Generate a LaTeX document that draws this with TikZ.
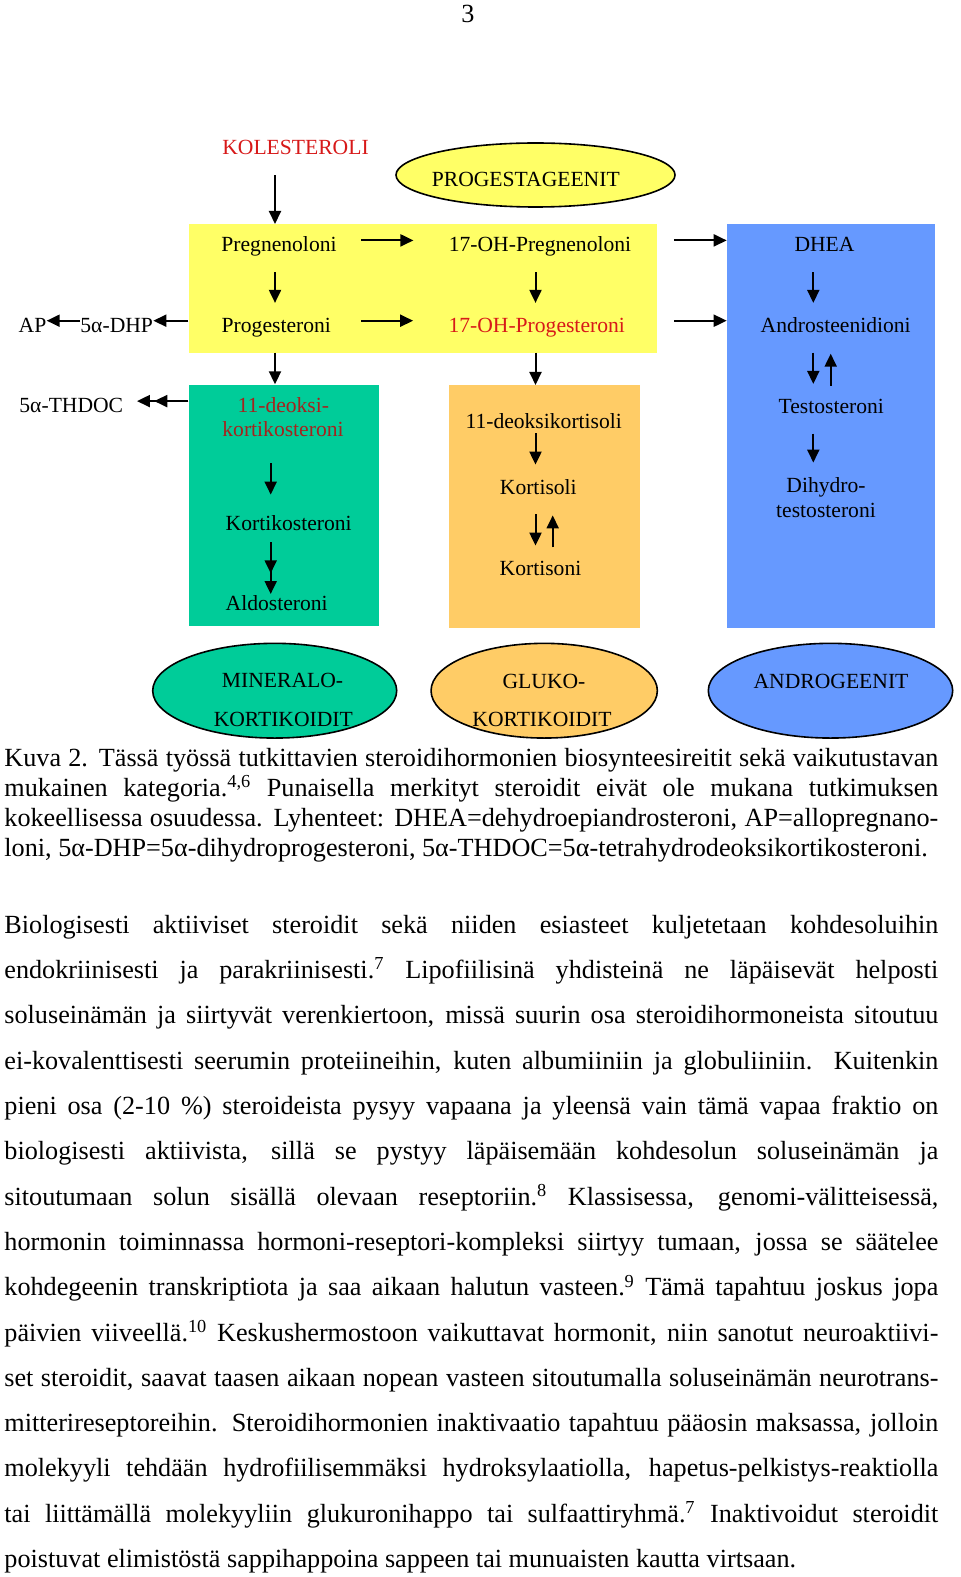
\documentclass[tikz,border=0pt]{standalone}
\usepackage{fontspec}
\setmainfont{Liberation Serif}
\usetikzlibrary{arrows.meta}
\usetikzlibrary{shapes.geometric}

\definecolor{yelbox}{RGB}{255,255,102}
\definecolor{grnbox}{RGB}{0,204,153}
\definecolor{orgbox}{RGB}{255,204,102}
\definecolor{blubox}{RGB}{102,153,255}
\definecolor{redtxt}{RGB}{215,25,25}
\definecolor{dkred}{RGB}{165,35,30}

\tikzset{
  lbl/.style={inner sep=0pt, anchor=base, text height=11.6pt, text depth=0pt, font=\fontsize{10.8}{13}\selectfont},
  box/.style={inner sep=0pt, anchor=north west},
  oval/.style={ellipse, draw, line width=0.8pt, inner sep=0pt},
  txt/.style={inner sep=0pt, anchor=base west, font=\fontsize{13.1}{15}\selectfont},
  arr/.style={line width=1pt, -{Triangle[length=6.5pt,width=6pt]}},
  vdown/.style={arr, shorten <=10pt, shorten >=2.9pt},
  vup/.style={arr, shorten <=2pt, shorten >=10.5pt}
}

\begin{document}
\begin{tikzpicture}[x=0.5pt,y=-0.5pt]

\useasboundingbox (0,0) rectangle (960,1577);

\node[txt, anchor=base] (pnum) at (468,23) {3};

% boxes
\node[box, fill=yelbox, minimum width=234.2pt, minimum height=64.15pt] (yel) at (188.3,224) {};
\node[box, fill=grnbox, minimum width=95.35pt, minimum height=120.85pt] (grn) at (188.3,384.3) {};
\node[box, fill=orgbox, minimum width=95.5pt, minimum height=121.15pt] (org) at (448.3,385) {};
\node[box, fill=blubox, minimum width=104.15pt, minimum height=201.65pt] (blu) at (726.7,224) {};

% ovals
\node[oval, fill=yelbox, minimum width=139.5pt, minimum height=32pt] (progov) at (535.5,175) {};
\node[oval, fill=grnbox, minimum width=122pt, minimum height=47.35pt] (minov) at (274.7,690.7) {};
\node[oval, fill=orgbox, minimum width=113.15pt, minimum height=47.35pt] (gluov) at (544.2,690.7) {};
\node[oval, fill=blubox, minimum width=122.2pt, minimum height=47.35pt] (andov) at (830.5,690.7) {};

% arrow columns
\coordinate (colA) at (275,0);
\coordinate (colB) at (535.5,0);
\coordinate (colB2) at (552.7,0);
\coordinate (colC) at (813.3,0);
\coordinate (colC2) at (830.7,0);
\coordinate (colG) at (270.7,0);

% labels
\node[lbl, text=redtxt] (kol) at (295.5,154.3) {KOLESTEROLI};
\node[lbl] (prgst) at (525.8,187) {PROGESTAGEENIT};
\node[lbl] (preg) at (279,252) {Pregnenoloni};
\node[lbl] (ohpreg) at (540,252) {17-OH-Pregnenoloni};
\node[lbl] (dhea) at (824.5,252) {DHEA};
\node[lbl] (ap) at (32.5,332.3) {AP};
\node[lbl] (dhp) at (116.7,332.3) {5α-DHP};
\node[lbl] (prog) at (276.3,332.3) {Progesteroni};
\node[lbl, text=redtxt] (ohprog) at (536.7,332.3) {17-OH-Progesteroni};
\node[lbl] (andro) at (835.7,332.3) {Androsteenidioni};
\node[lbl] (thdoc) at (71.3,412.7) {5α-THDOC};
\node[lbl, text=dkred] (dko1) at (283.3,412.7) {11-deoksi-};
\node[lbl, text=dkred] (dko2) at (283,437) {kortikosteroni};
\node[lbl] (dkol) at (543.7,429) {11-deoksikortisoli};
\node[lbl] (testo) at (831.3,413.3) {Testosteroni};
\node[lbl] (dht1) at (826,492) {Dihydro-};
\node[lbl] (dht2) at (826,517) {testosteroni};
\node[lbl] (kortiko) at (288.7,530.7) {Kortikosteroni};
\node[lbl] (kortisoli) at (538.3,494) {Kortisoli};
\node[lbl] (kortisoni) at (540.5,575) {Kortisoni};
\node[lbl] (aldo) at (276.7,610.7) {Aldosteroni};
\node[lbl] (min1) at (282.5,687) {MINERALO-};
\node[lbl] (min2) at (283.3,726) {KORTIKOIDIT};
\node[lbl] (glu1) at (544,688) {GLUKO-};
\node[lbl] (glu2) at (542,726) {KORTIKOIDIT};
\node[lbl] (andr) at (831,688) {ANDROGEENIT};

% vertical arrows
\draw[arr, shorten <=10.35pt] (kol.south -| colA) -- (yel.north -| colA);
\draw[vdown] (preg.south -| colA) -- (prog.north -| colA);
\draw[arr, shorten <=10pt] (prog.south -| colA) -- (grn.north -| colA);
\draw[vdown] (ohpreg.south -| colB) -- (ohprog.north -| colB);
\draw[arr, shorten <=10pt] (ohprog.south -| colB) -- (org.north -| colB);
\draw[vdown, shorten <=2pt] (dkol.south -| colB) -- (kortisoli.north -| colB);
\draw[vdown] (kortisoli.south -| colB) -- (kortisoni.north -| colB);
\draw[vup] (kortisoni.north -| colB2) -- (kortisoli.south -| colB2);
\draw[vdown] (dhea.south -| colC) -- (andro.north -| colC);
\draw[vdown] (andro.south -| colC) -- (testo.north -| colC);
\draw[vup] (testo.north -| colC2) -- (andro.south -| colC2);
\draw[vdown] (testo.south -| colC) -- (dht1.north -| colC);
\draw[arr, shorten <=12.85pt, shorten >=6.25pt] (dko2.south -| colG) -- (kortiko.north -| colG);
\draw[arr, shorten <=5.5pt, shorten >=2.55pt] (kortiko.south -| colG) -- (aldo.center -| colG);
\draw[arr, shorten <=5.5pt, shorten >=12.9pt] (kortiko.south -| colG) -- (aldo.center -| colG);

% horizontal arrows
\draw[arr, shorten <=12.15pt, shorten >=17.5pt] (preg) -- (ohpreg);
\draw[arr, shorten <=15pt, shorten >=17.5pt] (prog) -- (ohprog);
\draw[arr, shorten <=21.15pt] (ohpreg) -- (ohpreg -| blu.west);
\draw[arr, shorten <=24.5pt] (ohprog) -- (ohprog -| blu.west);
\draw[arr] (dhp -| yel.west) -- (dhp);
\draw[arr] (dhp) -- (ap);
\draw[arr, shorten >=6.7pt] (thdoc -| grn.west) -- (thdoc);
\draw[arr, shorten >=15.35pt] (thdoc -| grn.west) -- (thdoc);

% caption
\node[txt] (c1) at (4,766.3) {\makebox[467pt][s]{Kuva 2. Tässä työssä tutkittavien steroidihormonien biosynteesireitit sekä vaikutustavan}};
\node[txt] (c2) at (4,796.3) {\makebox[467pt][s]{mukainen kategoria.\textsuperscript{4,6} Punaisella merkityt steroidit eivät ole mukana tutkimuksen}};
\node[txt] (c3) at (4,826.3) {\makebox[467pt][s]{kokeellisessa osuudessa. Lyhenteet: DHEA=dehydroepiandrosteroni, AP=allopregnano-}};
\node[txt] (c4) at (4,856.3) {loni, 5α-DHP=5α-dihydroprogesteroni, 5α-THDOC=5α-tetrahydrodeoksikortikosteroni.};

% body text
\node[txt] (p1) at (4,933.3) {\makebox[467pt][s]{Biologisesti aktiiviset steroidit sekä niiden esiasteet kuljetetaan kohdesoluihin}};
\node[txt] (p2) at (4,978.6) {\makebox[467pt][s]{endokriinisesti ja parakriinisesti.\textsuperscript{7} Lipofiilisinä yhdisteinä ne läpäisevät helposti}};
\node[txt] (p3) at (4,1023.9) {\makebox[467pt][s]{soluseinämän ja siirtyvät verenkiertoon, missä suurin osa steroidihormoneista sitoutuu}};
\node[txt] (p4) at (4,1069.2) {\makebox[467pt][s]{ei-kovalenttisesti seerumin proteiineihin, kuten albumiiniin ja globuliiniin. Kuitenkin}};
\node[txt] (p5) at (4,1114.5) {\makebox[467pt][s]{pieni osa (2-10 \%) steroideista pysyy vapaana ja yleensä vain tämä vapaa fraktio on}};
\node[txt] (p6) at (4,1159.8) {\makebox[467pt][s]{biologisesti aktiivista, sillä se pystyy läpäisemään kohdesolun soluseinämän ja}};
\node[txt] (p7) at (4,1205.1) {\makebox[467pt][s]{sitoutumaan solun sisällä olevaan reseptoriin.\textsuperscript{8} Klassisessa, genomi-välitteisessä,}};
\node[txt] (p8) at (4,1250.4) {\makebox[467pt][s]{hormonin toiminnassa hormoni-reseptori-kompleksi siirtyy tumaan, jossa se säätelee}};
\node[txt] (p9) at (4,1295.7) {\makebox[467pt][s]{kohdegeenin transkriptiota ja saa aikaan halutun vasteen.\textsuperscript{9} Tämä tapahtuu joskus jopa}};
\node[txt] (p10) at (4,1341.0) {\makebox[467pt][s]{päivien viiveellä.\textsuperscript{10} Keskushermostoon vaikuttavat hormonit, niin sanotut neuroaktiivi-}};
\node[txt] (p11) at (4,1386.3) {\makebox[467pt][s]{set steroidit, saavat taasen aikaan nopean vasteen sitoutumalla soluseinämän neurotrans-}};
\node[txt] (p12) at (4,1431.6) {\makebox[467pt][s]{mitterireseptoreihin. Steroidihormonien inaktivaatio tapahtuu pääosin maksassa, jolloin}};
\node[txt] (p13) at (4,1476.9) {\makebox[467pt][s]{molekyyli tehdään hydrofiilisemmäksi hydroksylaatiolla, hapetus-pelkistys-reaktiolla}};
\node[txt] (p14) at (4,1522.2) {\makebox[467pt][s]{tai liittämällä molekyyliin glukuronihappo tai sulfaattiryhmä.\textsuperscript{7} Inaktivoidut steroidit}};
\node[txt] (p15) at (4,1567.5) {poistuvat elimistöstä sappihappoina sappeen tai munuaisten kautta virtsaan.};

\end{tikzpicture}
\end{document}
